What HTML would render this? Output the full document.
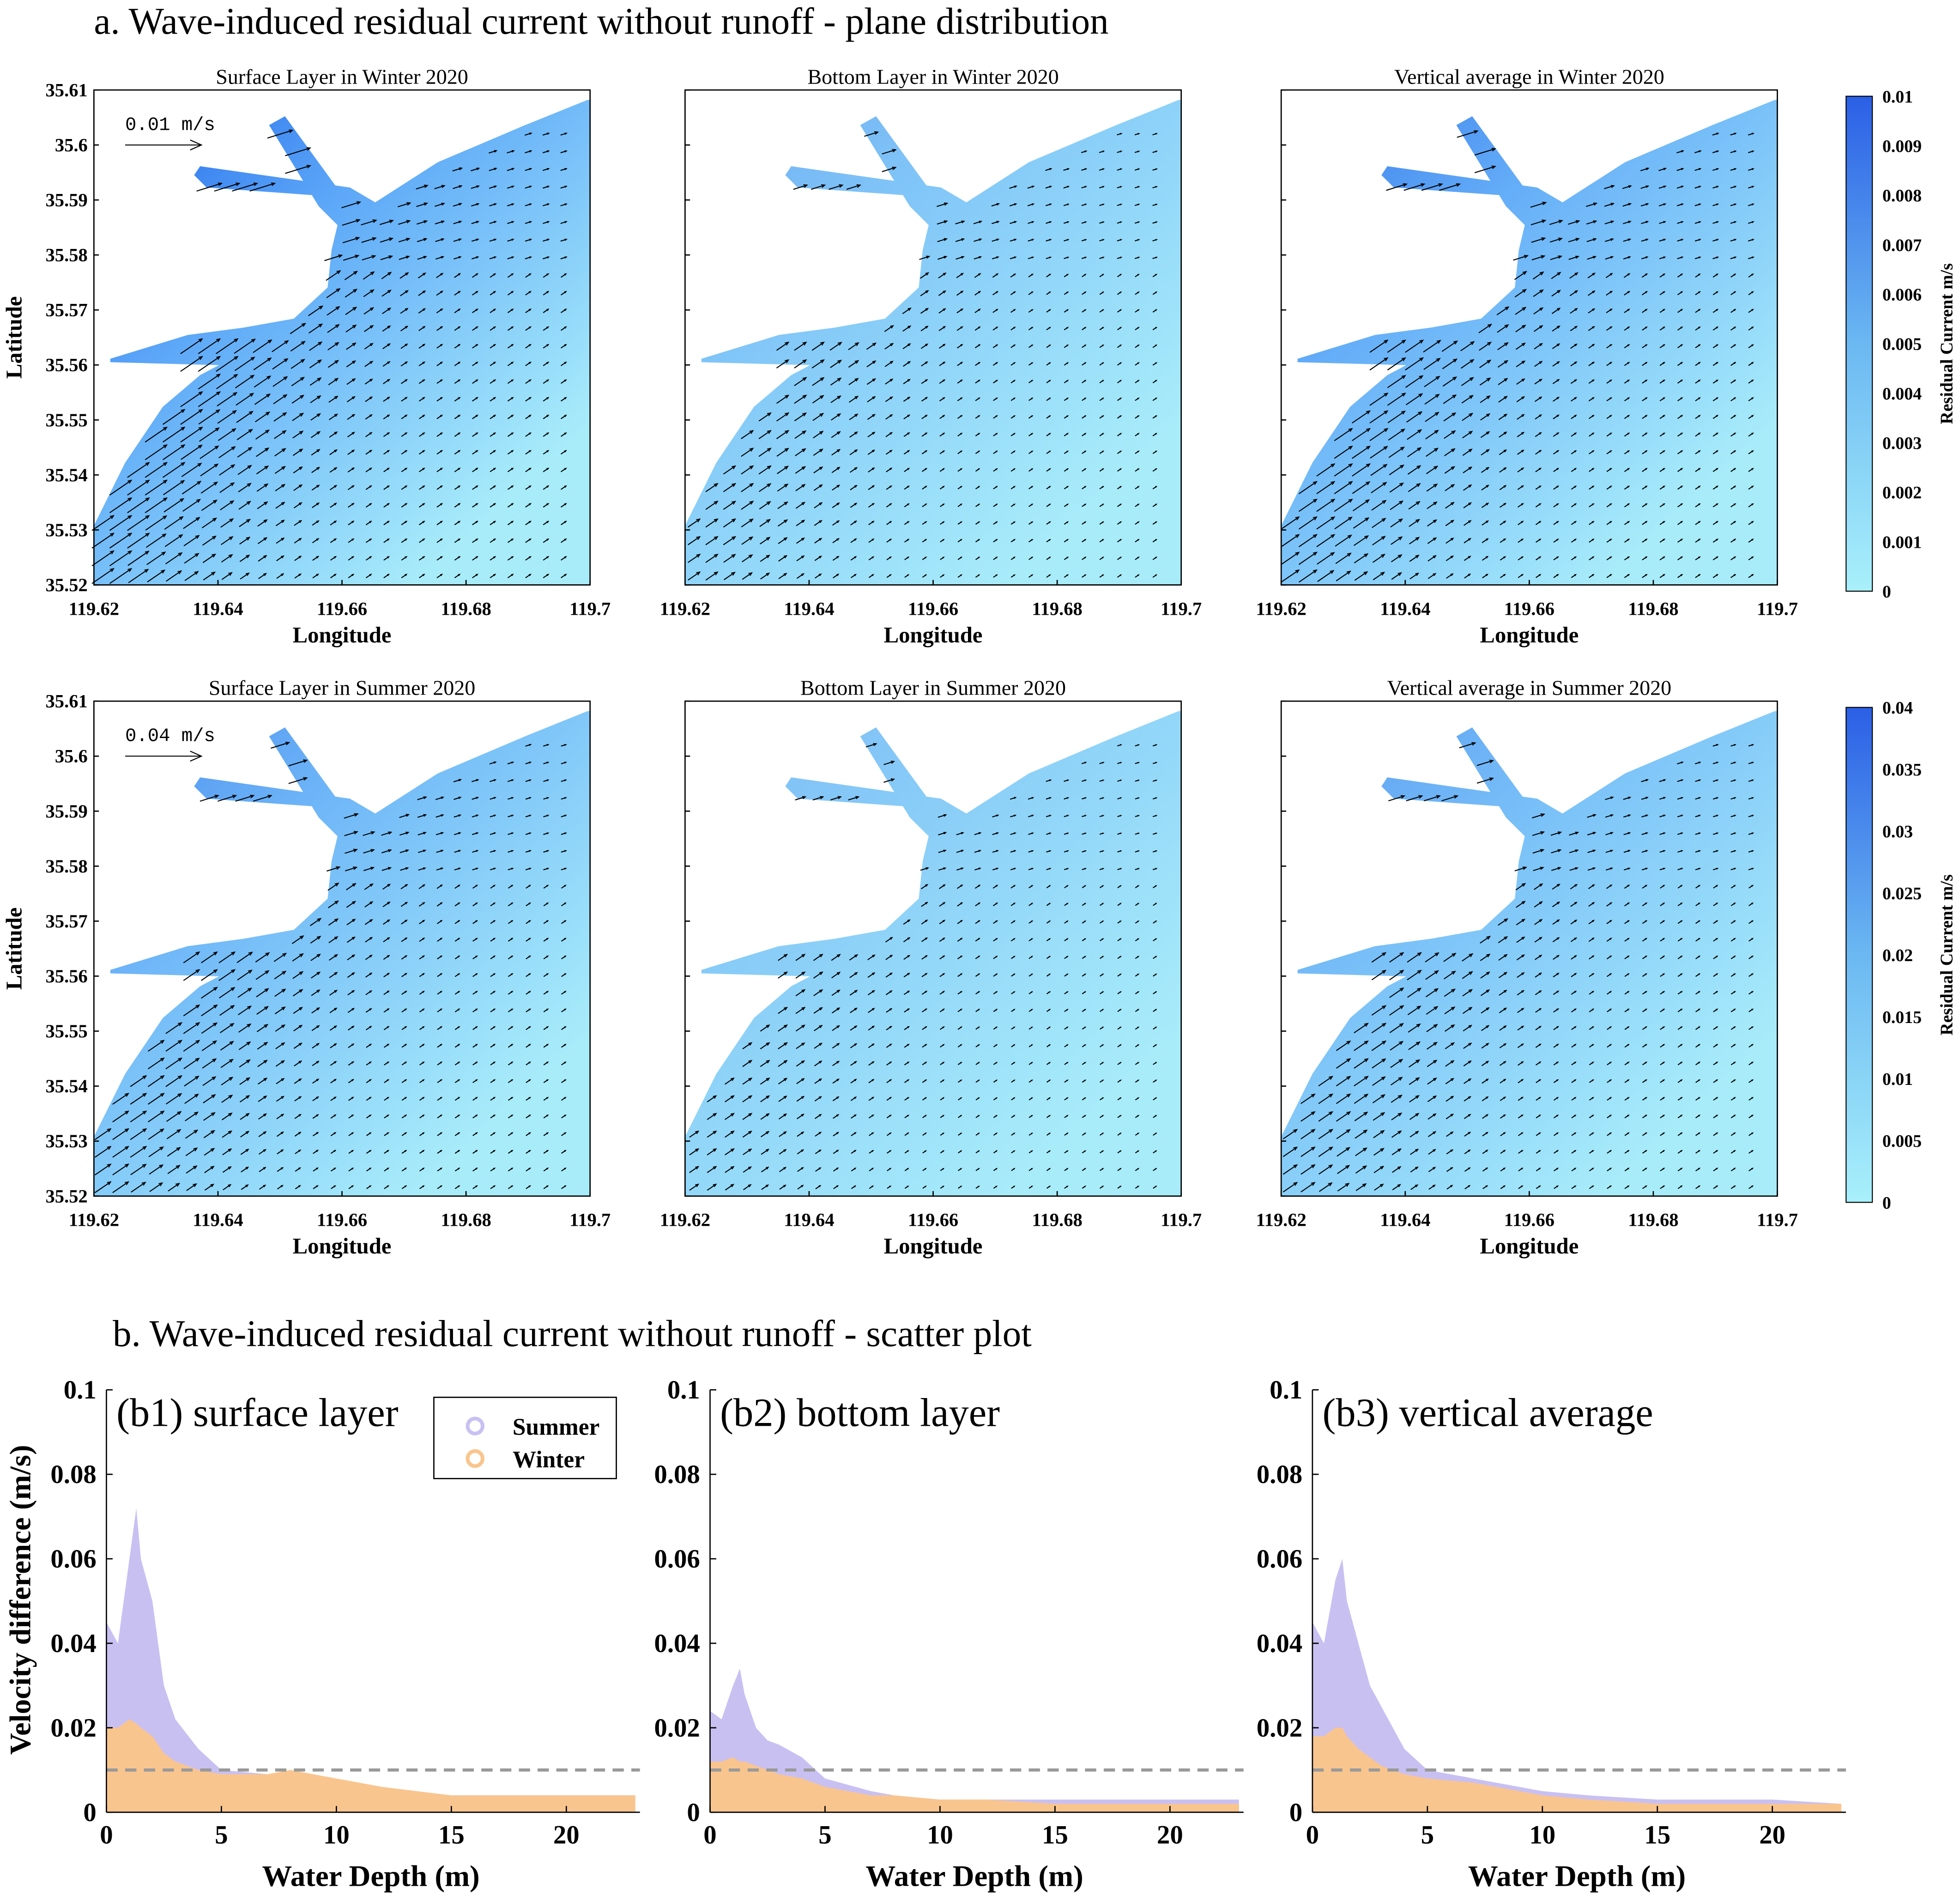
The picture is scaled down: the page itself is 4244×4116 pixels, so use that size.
<!DOCTYPE html>
<html><head><meta charset="utf-8"><style>
html,body{margin:0;padding:0;background:#fff}
svg{display:block}
text{font-family:"Liberation Serif",serif}
.tk{font-weight:bold}
.ax{font-weight:bold}
</style></head><body>
<svg id="fig" width="4244" height="4116" viewBox="0 0 1568 1521" xmlns="http://www.w3.org/2000/svg">
<defs>
<linearGradient id="cb1" x1="0" y1="1" x2="0" y2="0"><stop offset="0" stop-color="#a9f0fb"/><stop offset="0.5" stop-color="#6bb8f2"/><stop offset="1" stop-color="#2b5fe6"/></linearGradient>
</defs>
<text x="75" y="27" style="font-size:30px">a. Wave-induced residual current without runoff - plane distribution</text>
<text x="90" y="1077" style="font-size:30px">b. Wave-induced residual current without runoff - scatter plot</text>
<g id="maps"></g>
<g id="scat"></g>
</svg>
<script>
const NS="http://www.w3.org/2000/svg";
function mk(p,t,a,txt){const e=document.createElementNS(NS,t);for(const k in a)e.setAttribute(k,a[k]);if(txt!==undefined)e.textContent=txt;p.appendChild(e);return e;}
const coast=[[0,1],[0,.88],[.063,.753],[.139,.64],[.214,.576],[.252,.556],[.033,.55],[.033,.543],[.189,.495],[.302,.48],[.403,.462],[.471,.399],[.479,.323],[.491,.273],[.453,.235],[.353,.071],[.385,.053],[.504,.217],[.227,.197],[.202,.172],[.214,.154],[.516,.197],[.567,.227],[.693,.146],[.869,.071],[.995,.02],[1,.02],[1,1]];
const latTicks=["35.61","35.6","35.59","35.58","35.57","35.56","35.55","35.54","35.53","35.52"];
const lonTicks=["119.62","119.64","119.66","119.68","119.7"];
const cbTicksW=["0","0.001","0.002","0.003","0.004","0.005","0.006","0.007","0.008","0.009","0.01"];
const cbTicksS=["0","0.005","0.01","0.015","0.02","0.025","0.03","0.035","0.04"];
const panelTitles=[["Surface Layer in Winter 2020","Bottom Layer in Winter 2020","Vertical average in Winter 2020"],["Surface Layer in Summer 2020","Bottom Layer in Summer 2020","Vertical average in Summer 2020"]];
const intensity=[[1.0,0.45,0.85],[0.7,0.35,0.6]];
const arrowScale=[[1.0,0.5,0.8],[0.7,0.35,0.6]];
const colsX=[75,548,1025], rowsY=[72,561], PW=397, PH=396;
function inside(u,v){let c=false;for(let i=0,j=coast.length-1;i<coast.length;j=i++){const a=coast[i],b=coast[j];
 if(((a[1]>v)!=(b[1]>v))&&(u<(b[0]-a[0])*(v-a[1])/(b[1]-a[1])+a[0]))c=!c;}return c;}
const maps=document.getElementById('maps');
let gid=0;
for(let r=0;r<2;r++){for(let c=0;c<3;c++){
 const x0=colsX[c],y0=rowsY[r],g=mk(maps,'g',{});
 
 
 const I=intensity[r][c];gid++;
 const gr=mk(document.querySelector('defs'),'linearGradient',{id:'wg'+gid,x1:'0',y1:'0.1',x2:'0.75',y2:'0.9'});
 mk(gr,'stop',{offset:'0','stop-color':`rgb(${Math.round(170-130*I)},${Math.round(230-120*I)},${Math.round(250-15*I)})`});
 mk(gr,'stop',{offset:'0.35','stop-color':`rgb(${Math.round(160-70*I)},${Math.round(225-60*I)},248)`});
 mk(gr,'stop',{offset:'1','stop-color':'#a8ecfa'});
 const pts=coast.map(p=>(x0+p[0]*PW)+','+(y0+p[1]*PH)).join(' ');
 const wp=mk(g,'polygon',{points:pts,fill:'url(#wg'+gid+')'});
 
 const S=arrowScale[r][c];
 for(let i=0;i<28;i++)for(let j=0;j<28;j++){
  const u=(i+0.5)/28,v=(j+0.5)/28;
  if(!inside(u,v)||!inside(u+0.02,v)||!inside(u,v-0.02))continue;
  const dist=Math.max(0,u-0.5*(1-v)-0.05);
  const near=Math.max(0,1-dist*2.2);
  const L=(3+16*near*near)*S+2;
  const ang=-0.6+(v<0.35?0.3:0);
  const ax=x0+u*PW,ay=y0+v*PH,dx=Math.cos(ang)*L,dy=Math.sin(ang)*L;
  mk(g,'line',{x1:ax-dx/2,y1:ay-dy/2,x2:ax+dx/2,y2:ay+dy/2,stroke:'#000','stroke-width':0.8});
  const hx=ax+dx/2,hy=ay+dy/2,h=Math.min(3,L*0.3);
  mk(g,'path',{d:`M${hx-Math.cos(ang-0.4)*h},${hy-Math.sin(ang-0.4)*h} L${hx},${hy} L${hx-Math.cos(ang+0.4)*h},${hy-Math.sin(ang+0.4)*h}`,fill:'none',stroke:'#000','stroke-width':0.7});
 }
 mk(g,'rect',{x:x0,y:y0,width:PW,height:PH,fill:'none',stroke:'#000','stroke-width':1});
 const t=mk(g,'text',{x:x0+PW/2,y:y0-5,'text-anchor':'middle',style:'font-size:17px'},panelTitles[r][c]);
 
 latTicks.forEach((s,k)=>{const y=y0+k*PH/9;mk(g,'line',{x1:x0,y1:y,x2:x0+4,y2:y,stroke:'#000'});
   if(c==0)mk(g,'text',{x:x0-5,y:y+5,'text-anchor':'end',class:'tk',style:'font-size:15px'},s);});
 lonTicks.forEach((s,k)=>{const x=x0+k*PW/4;mk(g,'line',{x1:x,y1:y0+PH,x2:x,y2:y0+PH-4,stroke:'#000'});
   mk(g,'text',{x:x,y:y0+PH+24,'text-anchor':'middle',class:'tk',style:'font-size:15px'},s);});
 const lx=mk(g,'text',{x:x0+PW/2,y:y0+PH+46,'text-anchor':'middle',class:'ax',style:'font-size:18px'},'Longitude');
 
 if(c==0){const ly=mk(g,'text',{transform:`translate(${x0-58},${y0+PH/2}) rotate(-90)`,'text-anchor':'middle',class:'ax',style:'font-size:18px'},'Latitude');
  
  mk(g,'text',{x:x0+25,y:y0+32,style:'font-family:Liberation Mono,monospace;font-size:15px'},r?'0.04 m/s':'0.01 m/s');
  mk(g,'line',{x1:x0+25,y1:y0+44,x2:x0+85,y2:y0+44,stroke:'#000','stroke-width':0.8});
  mk(g,'path',{d:`M${x0+77},${y0+40} L${x0+86},${y0+44} L${x0+77},${y0+48}`,fill:'none',stroke:'#000','stroke-width':0.8});}
}
 const cy=r?566:77,cg=mk(maps,'g',{});
 
 mk(cg,'rect',{x:1477,y:cy,width:21,height:396,fill:'url(#cb1)',stroke:'#000','stroke-width':0.8});
 const tk=r?cbTicksS:cbTicksW;
 tk.forEach((s,k)=>{const y=cy+396-k*396/(tk.length-1);mk(cg,'text',{x:1506,y:y+5,class:'tk',style:'font-size:14px'},s);});
 mk(cg,'text',{transform:`translate(1562,${cy+198}) rotate(-90)`,'text-anchor':'middle',class:'tk',style:'font-size:14px'},'Residual Current m/s');
}
const depths=[0,0.5,1,1.3,1.5,2,2.5,3,4,5,7,8,10,12,15,20,23];
const sumSurf=[0.045,0.04,0.06,0.072,0.06,0.05,0.03,0.022,0.015,0.01,0.009,0.009,0.007,0.005,0.004,0.004,0.004];
const winSurf=[0.02,0.02,0.022,0.021,0.02,0.018,0.014,0.012,0.01,0.009,0.009,0.01,0.008,0.006,0.004,0.004,0.004];
const sumBot=[0.024,0.022,0.03,0.034,0.028,0.02,0.017,0.016,0.013,0.008,0.005,0.004,0.003,0.003,0.003,0.003,0.003];
const winBot=[0.012,0.012,0.013,0.012,0.012,0.011,0.01,0.009,0.008,0.006,0.004,0.004,0.003,0.003,0.002,0.002,0.002];
const sumAvg=[0.045,0.04,0.055,0.06,0.05,0.04,0.03,0.025,0.015,0.01,0.008,0.007,0.005,0.004,0.003,0.003,0.002];
const winAvg=[0.018,0.018,0.02,0.02,0.018,0.015,0.013,0.011,0.009,0.008,0.007,0.006,0.004,0.003,0.002,0.002,0.002];
const xTicks=[0,5,10,15,20], yTicks=[0,0.02,0.04,0.06,0.08,0.1], yLabels=["0","0.02","0.04","0.06","0.08","0.1"];
const sPanels=[{x0:85,lab:"(b1) surface layer",s:sumSurf,w:winSurf},{x0:568,lab:"(b2) bottom layer",s:sumBot,w:winBot},{x0:1050,lab:"(b3) vertical average",s:sumAvg,w:winAvg}];
const SY0=1450,SY1=1112,XPU=18.4;
const sc=document.getElementById('scat');
sPanels.forEach((p,pi)=>{
 const g=mk(sc,'g',{});
 const X=d=>p.x0+d*XPU, Y=v=>SY0-(v/0.1)*(SY0-SY1);
 const right=X(23.2);
 const area=(arr,col,name)=>{let d='M'+X(0)+','+Y(0);depths.forEach((dp,k)=>d+=' L'+X(dp)+','+Y(arr[k]));d+=' L'+X(23)+','+Y(0)+'Z';
  const e=mk(g,'path',{d:d,fill:col});};
 area(p.s,'#c9c0f2','summer-points');area(p.w,'#f9c58e','winter-points');
 mk(g,'line',{x1:X(0),y1:Y(0.01),x2:right,y2:Y(0.01),stroke:'#999','stroke-width':2.5,'stroke-dasharray':'9,6'});
 mk(g,'line',{x1:X(0),y1:SY0,x2:right,y2:SY0,stroke:'#000','stroke-width':1});
 mk(g,'line',{x1:X(0),y1:SY0,x2:X(0),y2:SY1,stroke:'#000','stroke-width':1});
 xTicks.forEach(t=>{mk(g,'line',{x1:X(t),y1:SY0,x2:X(t),y2:SY0-5,stroke:'#000'});mk(g,'text',{x:X(t),y:SY0+25,'text-anchor':'middle',class:'tk',style:'font-size:21px'},String(t));});
 yTicks.forEach((t,k)=>{mk(g,'line',{x1:X(0),y1:Y(t),x2:X(0)+5,y2:Y(t),stroke:'#000'});mk(g,'text',{x:X(0)-8,y:Y(t)+7,'text-anchor':'end',class:'tk',style:'font-size:21px'},yLabels[k]);});
 mk(g,'text',{x:X(0)+8,y:1141,style:'font-size:32px'},p.lab);
 const xt=mk(g,'text',{x:X(11.5),y:1509,'text-anchor':'middle',class:'ax',style:'font-size:24px'},'Water Depth (m)');
 
 if(pi==0){const yt=mk(g,'text',{transform:`translate(24,1280) rotate(-90)`,'text-anchor':'middle',class:'ax',style:'font-size:24px'},'Velocity difference (m/s)');
  
  const lg=mk(g,'g',{});
  mk(lg,'rect',{x:347,y:1118,width:146,height:65,fill:'#fff',stroke:'#000'});
  mk(lg,'circle',{cx:380,cy:1141,r:6,fill:'none',stroke:'#c9c0f2','stroke-width':3});
  mk(lg,'text',{x:410,y:1148,class:'tk',style:'font-size:19px'},'Summer');
  mk(lg,'circle',{cx:380,cy:1167,r:6,fill:'none',stroke:'#f9c58e','stroke-width':3});
  mk(lg,'text',{x:410,y:1174,class:'tk',style:'font-size:19px'},'Winter');}
});
</script>
</body></html>
